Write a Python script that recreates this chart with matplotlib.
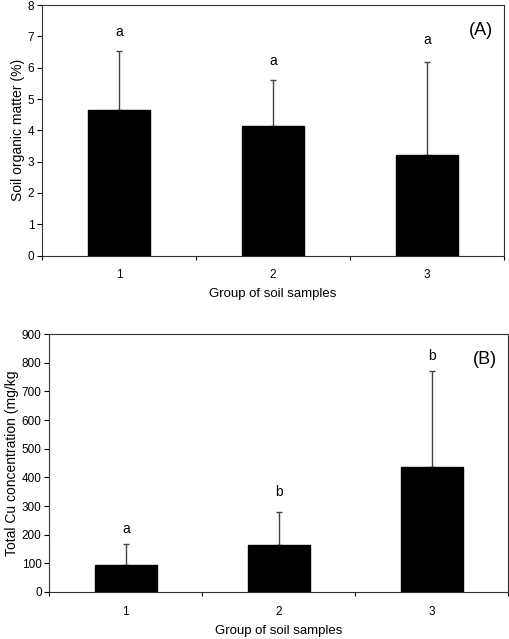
import matplotlib
matplotlib.use("Agg")
import matplotlib.pyplot as plt
import numpy as np

plt.rcParams["font.family"] = ["Liberation Sans", "DejaVu Sans"]

groups = ["1", "2", "3"]

# Panel A: soil organic matter (%)
som_mean = [4.64, 4.14, 3.22]
som_err = [1.91, 1.46, 2.97]
som_letters = ["a", "a", "a"]
som_letter_y = [7.15, 6.2, 6.87]

# Panel B: total Cu (mg/kg)
cu_mean = [94, 165, 435]
cu_err = [73, 114, 338]
cu_letters = ["a", "b", "b"]
cu_letter_y = [221, 349, 823]

fig = plt.figure(figsize=(5.1, 6.39), dpi=100)
ax1 = fig.add_axes([0.0824, 0.600, 0.906, 0.392])
ax2 = fig.add_axes([0.0967, 0.0736, 0.900, 0.4034])


def draw_panel(ax, means, errs, letters, letter_y, ymax, ystep, ylabel, tag):
    x = np.arange(1, len(means) + 1)
    ax.bar(x, means, width=0.405, color="black", edgecolor="black", zorder=2)
    ax.errorbar(x, means, yerr=[np.zeros(len(errs)), errs], fmt="none",
                ecolor="#444444", elinewidth=1.0, capsize=2.5, capthick=1.0, zorder=1)
    for xi, lt, ly in zip(x, letters, letter_y):
        ax.text(xi, ly, lt, ha="center", va="center", fontsize=10)
    ax.set_xlim(0.5, 3.5)
    ax.set_ylim(0, ymax)
    ax.set_yticks(np.arange(0, ymax + ystep / 2, ystep))
    ax.set_xticks([0.5, 1.5, 2.5, 3.5])
    ax.set_xticklabels([])
    ax.set_xticks(x, minor=True)
    ax.set_xticklabels(groups, minor=True)
    ax.tick_params(axis="x", which="minor", length=0, pad=10, labelsize=8.5)
    ax.tick_params(axis="x", which="major", length=3, direction="out")
    ax.tick_params(axis="y", length=3.5, direction="out", pad=2, labelsize=8.5)
    ax.set_xlabel("Group of soil samples", fontsize=9.5, labelpad=5)
    ax.set_ylabel(ylabel, fontsize=10, labelpad=2)
    ax.text(0.975, 0.9, tag, transform=ax.transAxes, ha="right", va="center", fontsize=13)
    for s in ax.spines.values():
        s.set_linewidth(0.8)
        s.set_color("#333333")


draw_panel(ax1, som_mean, som_err, som_letters, som_letter_y, 8, 1,
           "Soil organic matter (%)", "(A)")
draw_panel(ax2, cu_mean, cu_err, cu_letters, cu_letter_y, 900, 100,
           "Total Cu concentration (mg/kg", "(B)")

fig.savefig("out.png", dpi=100)
